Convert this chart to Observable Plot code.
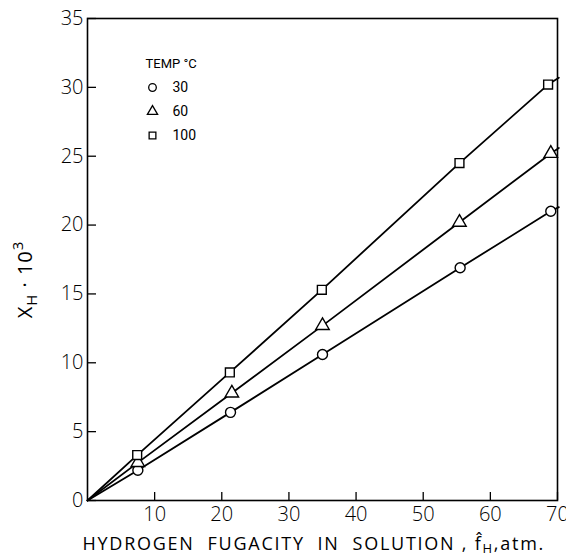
<!DOCTYPE html>
<html>
<head>
<meta charset="utf-8">
<script src="https://cdn.jsdelivr.net/npm/d3@7"></script>
<script src="https://cdn.jsdelivr.net/npm/@observablehq/plot@0.6"></script>
<style>
  html, body { margin: 0; padding: 0; background: #fff; }
  #chart { width: 566px; height: 557px; }
</style>
</head>
<body>
<div id="chart"></div>
<script>
// Hydrogen fugacity (atm) and mole fraction x 10^3 for each temperature
const fug30  = [0, 7.5, 21.3, 35.0, 55.5, 69.0, 70.2];
const xh30   = [0, 2.2, 6.4, 10.6, 16.9, 21.0, 21.3];
const fug60  = [0, 7.5, 21.5, 35.0, 55.4, 69.0, 70.2];
const xh60   = [0, 2.75, 7.8, 12.7, 20.2, 25.2, 25.6];
const fug100 = [0, 7.4, 21.2, 34.9, 55.4, 68.6, 70.2];
const xh100  = [0, 3.3, 9.3, 15.3, 24.5, 30.2, 30.7];
// which entries are measured points (not line start/end)
const measured = [false, true, true, true, true, true, false];

const temps = ["30", "60", "100"];
const symbols = ["circle", "triangle", "square"];
const xTicks = [10, 20, 30, 40, 50, 60, 70];
const yTicks = [0, 5, 10, 15, 20, 25, 30, 35];

const series = [
  {temp: temps[0], sym: symbols[0], f: fug30, v: xh30},
  {temp: temps[1], sym: symbols[1], f: fug60, v: xh60},
  {temp: temps[2], sym: symbols[2], f: fug100, v: xh100}
];
const rows = series.flatMap(s => s.f.map((f, i) => ({temp: s.temp, sym: s.sym, f, v: s.v[i], m: measured[i]})));
const pts = rows.filter(d => d.m);

const W = 566, H = 557, ML = 87, MR = 9, MT = 18, MB = 57, TICKX = 8, TICKY = 9;
const font = "'Open Sans', sans-serif";
const legendFont = "Roboto, sans-serif";

const legendMarks = [
  Plot.text(["TEMP °C"], {frameAnchor: "top-left", dx: 58, dy: 45, text: d => d, textAnchor: "start",
    lineAnchor: "middle", fontSize: 13, fontWeight: 400, fontFamily: legendFont, fill: "black"})
];
temps.forEach((t, i) => {
  legendMarks.push(Plot.dot([t], {frameAnchor: "top-left", dx: 65, dy: 69 + i * 24, symbol: () => symbols[i],
    r: 3.8, stroke: "black", strokeWidth: 1.3, fill: "white"}));
  legendMarks.push(Plot.text([t], {frameAnchor: "top-left", dx: 85, dy: 69 + i * 24, text: d => d, textAnchor: "start",
    lineAnchor: "middle", fontSize: 14, fontWeight: 400, fontFamily: legendFont, fill: "black"}));
});

const chart = Plot.plot({
  width: W,
  height: H,
  marginLeft: ML,
  marginRight: MR,
  marginTop: MT,
  marginBottom: MB,
  style: {fontFamily: font, fontSize: "20px", fontWeight: 300, color: "black", background: "white"},
  x: {domain: [0, 70], label: null},
  y: {domain: [0, 35], label: null},
  symbol: {domain: symbols, range: symbols},
  marks: [
    Plot.frame({stroke: "black", strokeWidth: 1.6}),
    Plot.axisX(xTicks, {tickSize: 0, tickPadding: 6, fontSize: 20, fill: "black"}),
    Plot.axisY(yTicks, {tickSize: 0, tickPadding: 4, fontSize: 20, fill: "black"}),
    Plot.tickX(xTicks, {x: d => d, insetTop: (H - MT - MB) - TICKX, stroke: "black", strokeWidth: 1.3}),
    Plot.tickY(yTicks, {y: d => d, insetRight: (W - ML - MR) - TICKY, stroke: "black", strokeWidth: 1.3}),
    Plot.line(rows, {x: "f", y: "v", z: "temp", stroke: "black", strokeWidth: 1.8}),
    Plot.dot(pts, {x: "f", y: "v", symbol: "sym", r: 5, stroke: "black", strokeWidth: 1.4, fill: "white"}),
    ...legendMarks,
    Plot.text(["HYDROGEN FUGACITY IN SOLUTION , f̂H,atm."], {frameAnchor: "bottom-left", dx: -5, dy: 44, text: d => d,
      textAnchor: "start", lineAnchor: "middle",
      fontSize: 18, fontFamily: font, fontWeight: 400, fill: "black", className: "xlabel"}),
    Plot.text(["XH · 10³"], {frameAnchor: "left", dx: -62, dy: 20, rotate: -90, text: d => d,
      textAnchor: "middle", lineAnchor: "middle",
      fontSize: 20, fontFamily: font, fontWeight: 400, fill: "black", className: "ylabel"})
  ]
});

document.getElementById("chart").appendChild(chart);

// typographic refinements: subscripts/superscripts and letter spacing
const xl = chart.querySelector(".xlabel text");
if (xl) {
  xl.textContent = "";
  const parts = [["HYDROGEN  FUGACITY  IN  SOLUTION , f̂", null], ["H", "sub"], [",atm.", null]];
  for (const [t, k] of parts) {
    const ts = document.createElementNS("http://www.w3.org/2000/svg", "tspan");
    ts.textContent = t;
    if (k === "sub") { ts.setAttribute("dy", "3"); ts.setAttribute("font-size", "13"); }
    else if (t.startsWith(",")) { ts.setAttribute("dy", "-3"); }
    xl.appendChild(ts);
  }
  xl.setAttribute("letter-spacing", "1.75");
  xl.style.whiteSpace = "pre";
}
const yl = chart.querySelector(".ylabel text");
if (yl) {
  yl.textContent = "";
  const parts = [["X", null], ["H", "sub"], [" · 10", "back"], ["3", "sup"]];
  for (const [t, k] of parts) {
    const ts = document.createElementNS("http://www.w3.org/2000/svg", "tspan");
    ts.textContent = t;
    if (k === "sub") { ts.setAttribute("dy", "5"); ts.setAttribute("font-size", "15"); }
    if (k === "back") { ts.setAttribute("dy", "-5"); }
    if (k === "sup") { ts.setAttribute("dy", "-9"); ts.setAttribute("font-size", "15"); }
    yl.appendChild(ts);
  }
  yl.setAttribute("letter-spacing", "1");
}
</script>
</body>
</html>
